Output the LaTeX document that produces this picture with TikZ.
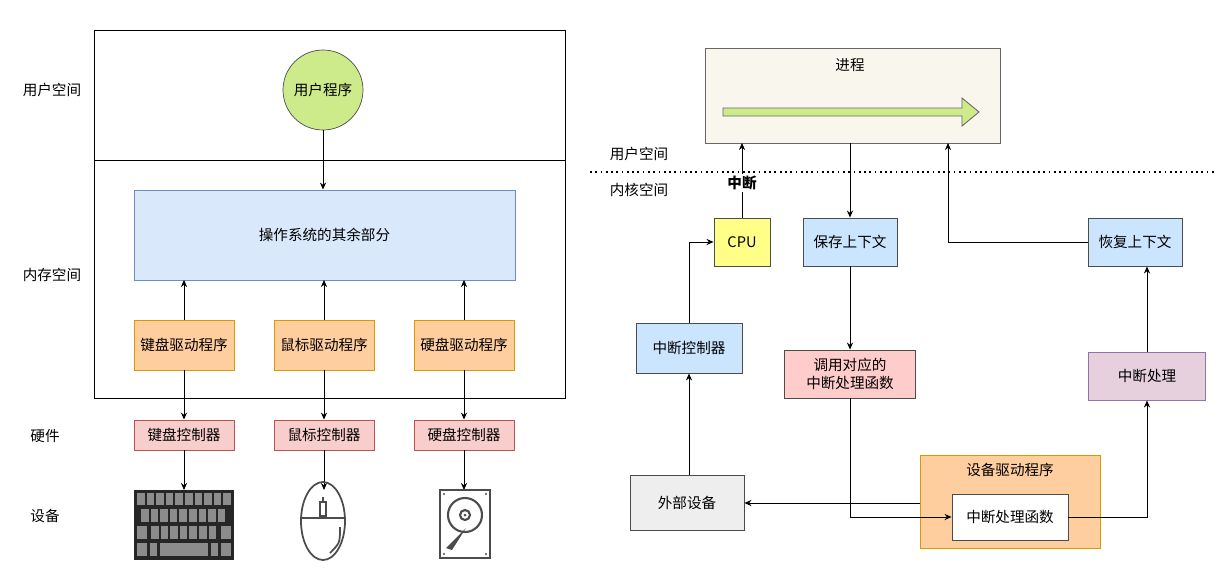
\documentclass[tikz,border=0pt]{standalone}
\usepackage{fontspec}
\setmainfont{Noto Sans CJK SC}
\usetikzlibrary{arrows.meta}
\definecolor{cgreen}{RGB}{205,235,139}
\definecolor{bluef}{RGB}{218,232,252}
\definecolor{blued}{RGB}{108,142,191}
\definecolor{orgf}{RGB}{255,206,159}
\definecolor{orgd}{RGB}{215,155,0}
\definecolor{redf}{RGB}{248,206,204}
\definecolor{redd}{RGB}{184,84,80}
\definecolor{procf}{RGB}{249,247,237}
\definecolor{yelf}{RGB}{255,255,136}
\definecolor{lblue}{RGB}{204,229,255}
\definecolor{pinkf}{RGB}{255,204,204}
\definecolor{purf}{RGB}{230,208,222}
\definecolor{purd}{RGB}{150,115,166}
\definecolor{grayf}{RGB}{238,238,238}
\begin{document}
\begin{tikzpicture}[x=0.02cm,y=-0.02cm,font=\fontsize{8.3}{10}\selectfont,
  box/.style={draw=#1,line width=0.5pt,inner sep=0pt},
  arr/.style={-{Stealth[length=4pt,width=3.5pt]},line width=0.5pt},
  ln/.style={line width=0.5pt}]
\useasboundingbox (0,0) rectangle (1231,572);
% left panel
\draw[ln] (94,30) rectangle (565,398);
\draw[ln] (94,160) -- (565,160);
\node at (52,90) {用户空间};
\node at (52,275) {内存空间};
\node at (45,436) {硬件};
\node at (45,516) {设备};
\fill[cgreen,draw=black!70] (323,90) circle (40);
\node (up) at (323,90) {用户程序};
\coordinate (upb) at (323,130);
\node[box=blued,fill=bluef,minimum width=381*0.02cm,minimum height=90*0.02cm] (os) at (324.5,235) {操作系统的其余部分};
\draw[arr] (upb) -- (upb |- os.north);
\foreach \n/\x/\t in {k/184/键盘,m/324/鼠标,h/464/硬盘}{
  \node[box=orgd,fill=orgf,minimum width=100*0.02cm,minimum height=50*0.02cm] (d\n) at (\x,345) {\t 驱动程序};
  \node[box=redd,fill=redf,minimum width=100*0.02cm,minimum height=30*0.02cm] (c\n) at (\x,435) {\t 控制器};
  \draw[arr] (d\n.north) -- (\x,280);
  \draw[arr] (d\n.south) -- (c\n.north);
  \coordinate (e\n) at (\x,490);
  \draw[arr] (c\n.south) -- (e\n);
}
% keyboard
\fill[black!85] (134,490) rectangle (234,560);
\foreach \i in {0,...,9} \fill[black!45] (137+\i*9.6,493) rectangle (144.5+\i*9.6,505);
\foreach \i in {0,...,8} \fill[black!45] (141+\i*9.6,509) rectangle (148.5+\i*9.6,522);
\foreach \i in {0,...,6} \fill[black!45] (151+\i*9.6,526) rectangle (158.5+\i*9.6,539);
\fill[black!45] (137,526) rectangle (147,539);
\fill[black!45] (221,526) rectangle (231,539);
\fill[black!45] (137,543) rectangle (147,556);
\fill[black!45] (150,543) rectangle (157,556);
\fill[black!45] (160,543) rectangle (208,556);
\fill[black!45] (211,543) rectangle (218,556);
\fill[black!45] (221,543) rectangle (231,556);
% mouse
\draw[black!70,line width=1pt] (323,521) ellipse (22 and 39);
\draw[black!70,line width=1pt] (301,518) -- (345,518);
\draw[black!70,line width=1pt] (323,497) -- (323,518);
\draw[black!70,line width=1pt,fill=white] (320,502) rectangle (326,516);
\draw[black!70,line width=1pt] (340,527) .. controls (340,543) .. (330,553);
% hdd
\draw[black!70,line width=1.2pt] (440,490) rectangle (490,558);
\foreach \p in {(444,494),(486,494),(444,554),(486,554)} \fill[black!70] \p circle (1.2);
\draw[black!70,line width=1.2pt] (465,515) circle (17);
\draw[black!70,line width=1.2pt] (465,515) circle (5);
\fill[black!70] (465,515) circle (1.5);
\fill[black!70] (446,548) -- (452,550) -- (466,528) -- cycle;
% right panel
\draw[dotted,line width=1pt] (590,172) -- (1215,172);
\node at (639,154) {用户空间};
\node at (639,190) {内核空间};
\draw[ln,draw=black!60,fill=procf] (705,48) rectangle (1000,143);
\node (proc) at (850,65) {进程};
\draw[ln,draw=black!60,fill=cgreen] (723,108) -- (962,108) -- (962,98) -- (979,112) -- (962,126) -- (962,116) -- (723,116) -- cycle;
\tikzset{rb/.style={box=black!70,fill=#1}}
\node[rb=yelf,minimum width=56*0.02cm,minimum height=48*0.02cm] (cpu) at (742,242) {CPU};
\node[rb=lblue,minimum width=94*0.02cm,minimum height=48*0.02cm] (save) at (850,242) {保存上下文};
\node[rb=lblue,minimum width=94*0.02cm,minimum height=48*0.02cm] (rest) at (1135,242) {恢复上下文};
\node[rb=lblue,minimum width=106*0.02cm,minimum height=50*0.02cm] (ic) at (689,348) {中断控制器};
\node[rb=pinkf,minimum width=131*0.02cm,minimum height=48*0.02cm,align=center] (call) at (850,374) {调用对应的\\中断处理函数};
\node[box=purd,fill=purf,minimum width=117*0.02cm,minimum height=48*0.02cm] (ih) at (1147,376) {中断处理};
\node[box=orgd,fill=orgf,minimum width=180*0.02cm,minimum height=93*0.02cm] (drv) at (1010,501.5) {};
\node at (1010,470) {设备驱动程序};
\node[rb=white,minimum width=116*0.02cm,minimum height=46*0.02cm] (ihf) at (1010,517) {中断处理函数};
\node[rb=grayf,minimum width=114*0.02cm,minimum height=55*0.02cm] (ext) at (687,502.5) {外部设备};
\coordinate (p1) at (742,143);
\coordinate (p2) at (948,143);
\draw[arr] (cpu.north) -- (p1);
\node[fill=white,inner sep=1pt,font=\fontsize{8.3}{10}\selectfont\bfseries] at (742,183) {中断};
\draw[arr] (850,143) -- (save.north);
\draw[arr] (rest.west) -| (p2);
\draw[arr] (ic.north) |- (cpu.west);
\draw[arr] (ext.north -| ic.south) -- (ic.south);
\draw[arr] (save.south) -- (call.north);
\draw[arr] (call.south) |- (ihf.west);
\draw[arr] (drv.west |- 0,503) -- (ext.east |- 0,503);
\draw[arr] (ihf.east) -| (ih.south);
\draw[arr] (ih.north) -- (ih.north |- rest.south);
\end{tikzpicture}
\end{document}
